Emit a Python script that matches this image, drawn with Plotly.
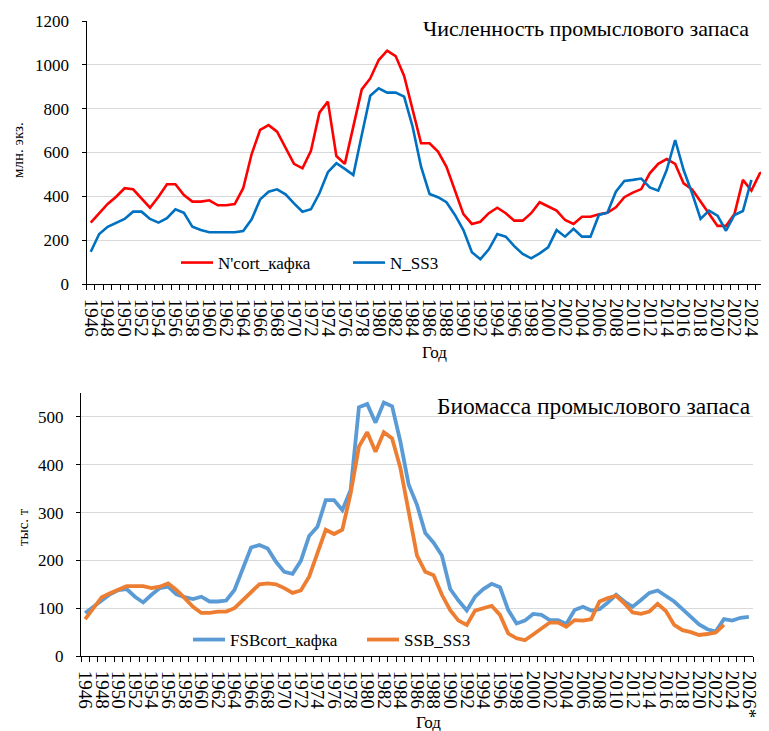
import plotly.graph_objects as go

years = list(range(1946, 2027))

n_cort = [280, 323, 365, 398, 437, 432, 391, 348, 398, 455,
          455, 406, 376, 376, 382, 359, 359, 365, 437, 593,
          703, 725, 695, 619, 548, 528, 608, 782, 832, 584,
          548, 718, 888, 938, 1022, 1065, 1040, 949, 794, 642,
          642, 604, 535, 429, 319, 274, 284, 323, 348, 323,
          289, 289, 323, 373, 353, 335, 292, 274, 307, 307,
          318, 325, 350, 396, 417, 433, 505, 548, 570, 548,
          459, 432, 376, 318, 265, 265, 319, 475, 426, 505, 517]

n_ss3 = [147, 228, 261, 280, 297, 330, 330, 297, 280, 300,
         341, 325, 261, 246, 236, 236, 236, 236, 242, 295,
         386, 421, 432, 409, 368, 330, 341, 414, 510, 551,
         525, 497, 680, 859, 893, 873, 873, 855, 718, 535,
         411, 396, 373, 315, 246, 145, 113, 158, 228, 216,
         173, 137, 117, 140, 167, 246, 216, 252, 216, 216,
         315, 325, 421, 470, 475, 481, 441, 426, 520, 657,
         520, 414, 297, 335, 312, 243, 315, 333, 475, None, None]

fsb_cort = [90, 103, 117, 129, 138, 140, 124, 112, 128, 142,
            145, 129, 123, 119, 124, 114, 114, 116, 138, 183,
            227, 232, 225, 197, 176, 172, 199, 251, 270, 326,
            326, 305, 347, 520, 527, 488, 530, 522, 448, 358,
            316, 257, 237, 210, 140, 116, 95, 124, 140, 151,
            144, 96, 68, 74, 88, 86, 75, 75, 67, 96,
            103, 95, 98, 112, 128, 114, 103, 117, 132, 137,
            126, 114, 98, 81, 66, 56, 51, 77, 74, 80, 82]

ssb_ss3 = [77, 100, 123, 131, 138, 146, 146, 146, 142, 145,
           152, 138, 121, 103, 90, 90, 93, 93, 100, 117,
           135, 150, 152, 150, 142, 132, 137, 166, 215, 264,
           255, 264, 340, 438, 468, 427, 468, 455, 393, 302,
           210, 176, 169, 128, 96, 74, 65, 95, 100, 105,
           86, 47, 37, 33, 45, 58, 70, 70, 61, 75,
           74, 77, 114, 121, 126, 110, 91, 88, 93, 109,
           94, 65, 54, 50, 44, 46, 49, 65, None, None, None]

tick_years = years[::2]
top_ticktext = [str(y) for y in tick_years]
bottom_ticktext = [str(y) for y in tick_years[:-1]] + ["2026*"]

SERIF = "Liberation Serif"
# page body has an 8px margin; figure sized to fit the 769x731 window
OX, OY = 8, 8
W, H = 761, 723


def px(sx):
    return (sx - OX) / W


def py(sy):
    return 1 - (sy - OY) / H


fig = go.Figure()
fig.add_trace(go.Scatter(x=years, y=n_cort, name="N'cort_кафка", mode="lines",
                         line=dict(color="#FF0000", width=2.6), xaxis="x", yaxis="y", legend="legend"))
fig.add_trace(go.Scatter(x=years, y=n_ss3, name="N_SS3", mode="lines",
                         line=dict(color="#0070C0", width=2.6), xaxis="x", yaxis="y", legend="legend"))
fig.add_trace(go.Scatter(x=years, y=fsb_cort, name="FSBcort_кафка", mode="lines",
                         line=dict(color="#5B9BD5", width=3.8), xaxis="x2", yaxis="y2", legend="legend2"))
fig.add_trace(go.Scatter(x=years, y=ssb_ss3, name="SSB_SS3", mode="lines",
                         line=dict(color="#ED7D31", width=3.8), xaxis="x2", yaxis="y2", legend="legend2"))


def xaxis_common(ticktext):
    return dict(
        tickmode="array", tickvals=tick_years, ticktext=ticktext, tickangle=90,
        tickfont=dict(family=SERIF, size=19, color="black"),
        ticks="", showline=True, linecolor="black", linewidth=1,
        showgrid=False, zeroline=False, ticklabelstandoff=10, automargin=False,
        minor=dict(ticks="outside", ticklen=5, tickcolor="black", tickwidth=1,
                   tick0=1945.5, dtick=1, showgrid=False),
    )


def yaxis_common():
    return dict(
        showgrid=True, gridcolor="#D9D9D9", gridwidth=1.3,
        showline=True, linecolor="black", linewidth=1,
        ticks="outside", ticklen=4, tickcolor="black",
        tickfont=dict(family=SERIF, size=17, color="black"),
        zeroline=False, ticklabelstandoff=9, automargin=False,
    )


xa = xaxis_common(top_ticktext)
xa.update(domain=[px(86.5), 1.0], range=[1945.5, 1945.5 + (769 - 86.5) / 8.47], anchor="y")
xb = xaxis_common(bottom_ticktext)
xb.update(domain=[px(81), px(753)], range=[1945.5, 2026.5], anchor="y2")
ya = yaxis_common()
ya.update(domain=[py(284), py(21)], range=[0, 1200], dtick=200, anchor="x")
yb = yaxis_common()
yb.update(domain=[py(656), py(393)], range=[0, 550], dtick=100, anchor="x2")


def ann(text, sx, sy, size, angle=0, xanchor="center"):
    return dict(text=text, x=px(sx), y=py(sy), xref="paper", yref="paper",
                xanchor=xanchor, yanchor="middle", showarrow=False, textangle=angle,
                font=dict(family=SERIF, size=size, color="black"))


annotations = [
    ann("Численность промыслового запаса", 751, 28, 22, xanchor="right"),
    ann("Биомасса промыслового запаса", 753, 406, 23.5, xanchor="right"),
    ann("млн. экз.", 18, 150, 15, angle=-90),
    ann("тыс. т", 23, 527, 15, angle=-90),
    ann("Год", 434, 352, 17),
    ann("Год", 428, 722, 17),
]

fig.update_layout(
    width=W, height=H, margin=dict(l=0, r=0, t=0, b=0, autoexpand=False),
    paper_bgcolor="white", plot_bgcolor="white",
    font=dict(family=SERIF, color="black"),
    xaxis=xa, yaxis=ya, xaxis2=xb, yaxis2=yb,
    annotations=annotations,
    legend=dict(orientation="h", x=px(176), y=py(263), xanchor="left", yanchor="middle",
                font=dict(family=SERIF, size=17, color="black"), bgcolor="rgba(0,0,0,0)",
                entrywidth=125, itemwidth=32),
    legend2=dict(orientation="h", x=px(188), y=py(640), xanchor="left", yanchor="middle",
                 font=dict(family=SERIF, size=17, color="black"), bgcolor="rgba(0,0,0,0)",
                 entrywidth=127, itemwidth=32),
    showlegend=True,
)

fig.write_html("out.html")
